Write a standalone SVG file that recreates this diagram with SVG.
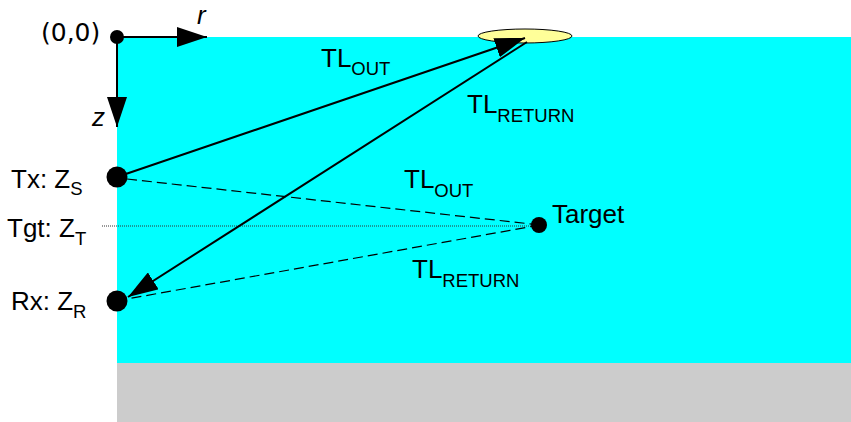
<svg xmlns="http://www.w3.org/2000/svg" width="851" height="422" viewBox="0 0 851 422">
<style>
text{font-family:"Liberation Sans",Arial,sans-serif;font-size:26px;fill:#000}
.sub{font-size:18.5px}
.it{font-style:italic}
.ray{stroke:#000;stroke-width:2;fill:none}
.dash{stroke:#000;stroke-width:1.2;stroke-dasharray:10,5;fill:none}
</style>
<defs>
<marker id="ah" markerUnits="userSpaceOnUse" markerWidth="30" markerHeight="20" refX="30" refY="10" orient="auto" viewBox="0 0 30 20">
<path d="M0,0 L30,10 L0,20 z" fill="#000"/>
</marker>
</defs>
<g id="background">
<rect x="117" y="37" width="734" height="326" fill="#00ffff"/>
<rect x="117" y="363" width="734" height="59" fill="#cccccc"/>
</g>
<g id="surface-patch">
<ellipse cx="525" cy="36" rx="47" ry="7" fill="#ffff99" stroke="#000" stroke-width="1"/>
</g>
<g id="connectors">
<line x1="102" y1="226" x2="540" y2="226" stroke="#333" stroke-width="1" stroke-dasharray="1,1"/>
<line class="dash" x1="127" y1="179" x2="540" y2="225"/>
<line class="dash" x1="540" y1="225" x2="127" y2="299"/>
<line class="ray" x1="117" y1="177" x2="525" y2="38" marker-end="url(#ah)"/>
<line class="ray" x1="527" y1="42" x2="128" y2="297" marker-end="url(#ah)"/>
<line class="ray" x1="117" y1="37" x2="207" y2="37" marker-end="url(#ah)"/>
<line class="ray" x1="117" y1="37" x2="117" y2="127" marker-end="url(#ah)"/>
</g>
<g id="origin">
<circle cx="117" cy="37" r="7" fill="#000"/>
<text x="41" y="41" style="font-family:'DejaVu Sans',Verdana,sans-serif;font-size:25px">(0,0)</text>
<text class="it" x="197" y="24">r</text>
<text class="it" x="92" y="126">z</text>
</g>
<g id="tx">
<circle cx="117" cy="177" r="10.5" fill="#000"/>
<text x="11" y="188">Tx: Z<tspan class="sub" dy="7">S</tspan></text>
</g>
<g id="tgt">
<text x="7" y="237">Tgt: Z<tspan class="sub" dy="8">T</tspan></text>
</g>
<g id="rx">
<circle cx="117" cy="301" r="10.5" fill="#000"/>
<text x="11" y="310">Rx: Z<tspan class="sub" dy="8">R</tspan></text>
</g>
<g id="target">
<circle cx="539" cy="225" r="8" fill="#000"/>
<text x="552" y="223">Target</text>
</g>
<g id="labels">
<text x="321" y="67">TL<tspan class="sub" dy="8">OUT</tspan></text>
<text x="467" y="113">TL<tspan class="sub" dy="9">RETURN</tspan></text>
<text x="404" y="188">TL<tspan class="sub" dy="9">OUT</tspan></text>
<text x="412" y="278">TL<tspan class="sub" dy="9">RETURN</tspan></text>
</g>
</svg>
